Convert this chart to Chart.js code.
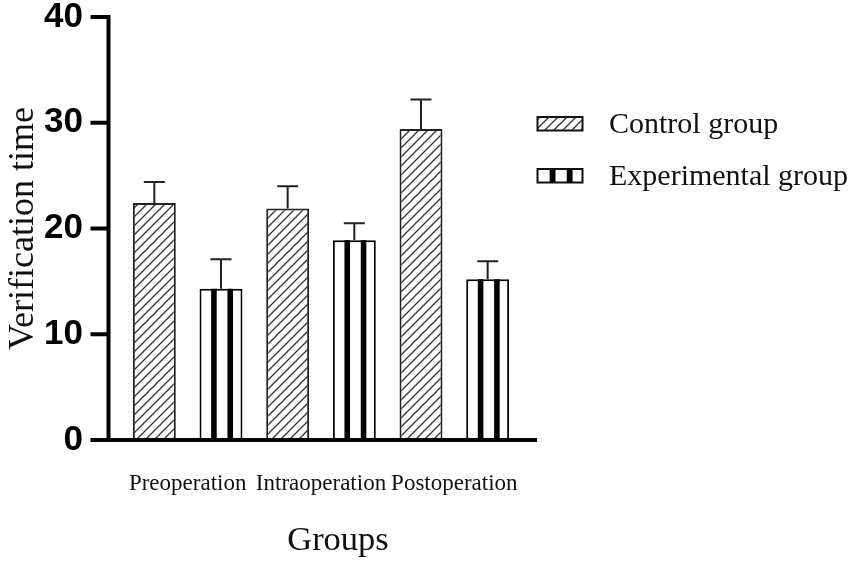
<!DOCTYPE html>
<html>
<head>
<meta charset="utf-8">
<script src="https://cdn.jsdelivr.net/npm/chart.js@4.4.1/dist/chart.umd.min.js"></script>
<style>
  html, body { margin: 0; padding: 0; background: #fff; }
  #wrap { width: 851px; height: 564px; }
</style>
</head>
<body>
<div id="wrap"><canvas id="bar-chart"></canvas></div>
<script>
const groups = ["Preoperation", "Intraoperation", "Postoperation"];
const seriesNames = ["Control group", "Experimental group"];
const controlMean = [22.4, 21.9, 29.4];
const controlSd = [2.0, 2.1, 2.8];
const experimentalMean = [14.3, 18.9, 15.2];
const experimentalSd = [2.8, 1.6, 1.7];
const yTicks = [0, 10, 20, 30, 40];

const serif = "'Liberation Serif', 'Times New Roman', serif";
const sans = "'Liberation Sans', Arial, sans-serif";

const ctz = document.getElementById('bar-chart');

// diagonal hatch for the control bars
function makeHatch(ctx) {
    const c = document.createElement('canvas');
    c.width = 9; c.height = 9;
    const g = c.getContext('2d');
    g.fillStyle = '#fff';
    g.fillRect(0, 0, 9, 9);
    g.strokeStyle = '#333';
    g.lineWidth = 1.3;
    g.beginPath();
    g.moveTo(-1, 10); g.lineTo(10, -1);
    g.moveTo(-1, 1); g.lineTo(1, -1);
    g.moveTo(8, 10); g.lineTo(10, 8);
    g.stroke();
    return ctx.createPattern(c, 'repeat');
}
const hatch = makeHatch(ctz.getContext('2d'));

// two black vertical stripes, as on the experimental bars
function stripes(ctx, left, top, w, h) {
    ctx.fillStyle = '#000';
    [0.27, 0.65].forEach(f => ctx.fillRect(left + w * f, top, w * 0.13, h));
}

const decor = {
    id: 'decor',
    afterDatasetDraw(chart, args) {
        if (args.index !== 1) return;
        const ctx = chart.ctx;
        ctx.save();
        args.meta.data.forEach(bar => {
            stripes(ctx, bar.x - bar.width / 2, bar.y, bar.width, bar.base - bar.y);
        });
        ctx.restore();
    },
    afterDatasetsDraw(chart) {
        const ctx = chart.ctx, y = chart.scales.y, area = chart.chartArea;
        const sds = [controlSd, experimentalSd];
        ctx.save();

        // error bars (upper only)
        ctx.strokeStyle = '#222';
        ctx.lineWidth = 2;
        chart.data.datasets.forEach((ds, i) => {
            chart.getDatasetMeta(i).data.forEach((bar, j) => {
                const top = y.getPixelForValue(ds.data[j] + sds[i][j]);
                ctx.beginPath();
                ctx.moveTo(bar.x, bar.y);
                ctx.lineTo(bar.x, top);
                ctx.moveTo(bar.x - 10.5, top);
                ctx.lineTo(bar.x + 10.5, top);
                ctx.stroke();
            });
        });

        // axes
        const axisX = area.left - 12.5;
        const zero = y.getPixelForValue(0);
        ctx.strokeStyle = '#000';
        ctx.lineWidth = 4;
        ctx.beginPath();
        ctx.moveTo(axisX, y.getPixelForValue(yTicks[yTicks.length - 1]) - 2);
        ctx.lineTo(axisX, zero + 2);
        yTicks.forEach(t => {
            const py = y.getPixelForValue(t);
            ctx.moveTo(axisX - 18, py);
            ctx.lineTo(axisX, py);
        });
        ctx.moveTo(axisX - 2, zero);
        ctx.lineTo(area.right + 16, zero);
        ctx.stroke();

        // legend
        const lx = area.right + 16.5;
        chart.data.datasets.forEach((ds, i) => {
            const top = 117 + i * 52;
            const w = 45, h = 13.5;
            ctx.fillStyle = i === 0 ? hatch : '#fff';
            ctx.fillRect(lx, top, w, h);
            if (i === 1) stripes(ctx, lx, top, w, h);
            ctx.strokeStyle = '#111';
            ctx.lineWidth = 2;
            ctx.strokeRect(lx, top, w, h);
            ctx.fillStyle = '#111';
            ctx.font = '30px ' + serif;
            ctx.textAlign = 'left';
            ctx.textBaseline = 'alphabetic';
            ctx.fillText(ds.label, lx + 71.5, top + 16);
        });

        // x axis title
        ctx.font = '34.5px ' + serif;
        ctx.textAlign = 'center';
        ctx.fillText('Groups', (area.left + area.right) / 2 + 17, 550);
        ctx.restore();
    }
};

new Chart(ctz, {
    type: 'bar',
    data: {
        labels: groups,
        datasets: [{
            label: seriesNames[0],
            data: controlMean,
            backgroundColor: hatch,
            borderColor: '#222',
            borderWidth: 2,
            barPercentage: 0.644,
            categoryPercentage: 1
        }, {
            label: seriesNames[1],
            data: experimentalMean,
            backgroundColor: '#fff',
            borderColor: '#000',
            borderWidth: 2,
            barPercentage: 0.644,
            categoryPercentage: 1
        }]
    },
    options: {
        responsive: true,
        maintainAspectRatio: false,
        animation: false,
        layout: { padding: { top: 17, right: 330, left: 0, bottom: 0 } },
        plugins: {
            legend: { display: false },
            tooltip: { enabled: false }
        },
        scales: {
            x: {
                grid: { display: false, drawTicks: false },
                border: { display: false },
                ticks: {
                    color: '#111',
                    padding: 30,
                    autoSkip: false,
                    maxRotation: 0,
                    minRotation: 0,
                    font: { family: serif, size: 23 }
                },
                afterFit(scale) { scale.height = 124; }
            },
            y: {
                min: 0,
                max: 40,
                afterBuildTicks(scale) { scale.ticks = yTicks.map(v => ({ value: v })); },
                grid: { display: false, drawTicks: false },
                border: { display: false },
                ticks: {
                    color: '#000',
                    padding: 38,
                    font: { family: sans, size: 35, weight: 'bold' }
                },
                title: {
                    display: true,
                    text: 'Verification time',
                    color: '#111',
                    padding: { top: 2, bottom: 0 },
                    font: { family: serif, size: 36 }
                },
                afterFit(scale) {
                    scale.width = 121;
                    scale.paddingTop = 0;
                    scale.paddingBottom = 0;
                }
            }
        }
    },
    plugins: [decor]
});
</script>
</body>
</html>
